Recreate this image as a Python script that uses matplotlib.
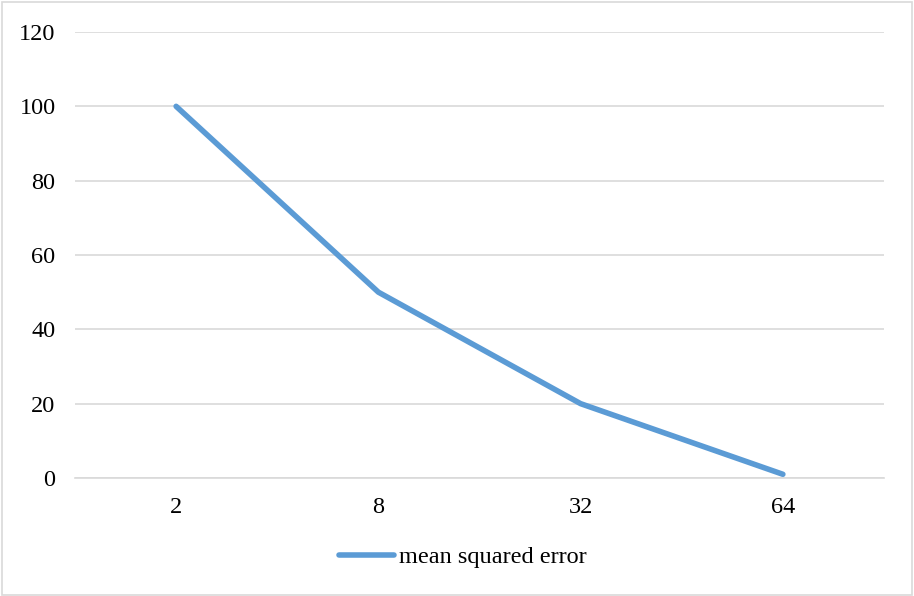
import matplotlib.pyplot as plt
from matplotlib.patches import Rectangle

plt.rcParams['font.family'] = ['Liberation Serif', 'DejaVu Serif']

categories = ['2', '8', '32', '64']
mse = [100, 50, 20, 1]
yticks = [0, 20, 40, 60, 80, 100, 120]

fig = plt.figure(figsize=(9.14, 5.96), dpi=100)
ax = fig.add_axes([75/914, 1-478/596, (884-75)/914, (478-32)/596])

x = range(len(categories))
ax.plot(x, mse, color='#5B9BD5', lw=4, solid_capstyle='round', label='mean squared error')

ax.set_xlim(-0.5, len(categories)-0.5)
ax.set_ylim(0, 120)
ax.set_xticks(list(x))
ax.set_xticklabels(categories)
ax.set_yticks(yticks)
ax.grid(axis='y', color='#D9D9D9', lw=1.2)
ax.set_axisbelow(True)
for s in ['top', 'right', 'left']:
    ax.spines[s].set_visible(False)
ax.spines['bottom'].set_color('#D9D9D9')
ax.spines['bottom'].set_linewidth(1.2)
ax.tick_params(length=0, labelsize=17.5, colors='black')
ax.tick_params(axis='x', pad=14)
ax.tick_params(axis='y', pad=14)

fig.legend(loc='center', bbox_to_anchor=(463/914, 1-557/596), frameon=False,
           fontsize=17.5, handlelength=2.25, handletextpad=0.2)

fig.patches.append(Rectangle((0.002, 0.002), 0.996, 0.995, transform=fig.transFigure,
                             fill=False, edgecolor='#D9D9D9', lw=1.2))

fig.savefig('out.png', dpi=100)
